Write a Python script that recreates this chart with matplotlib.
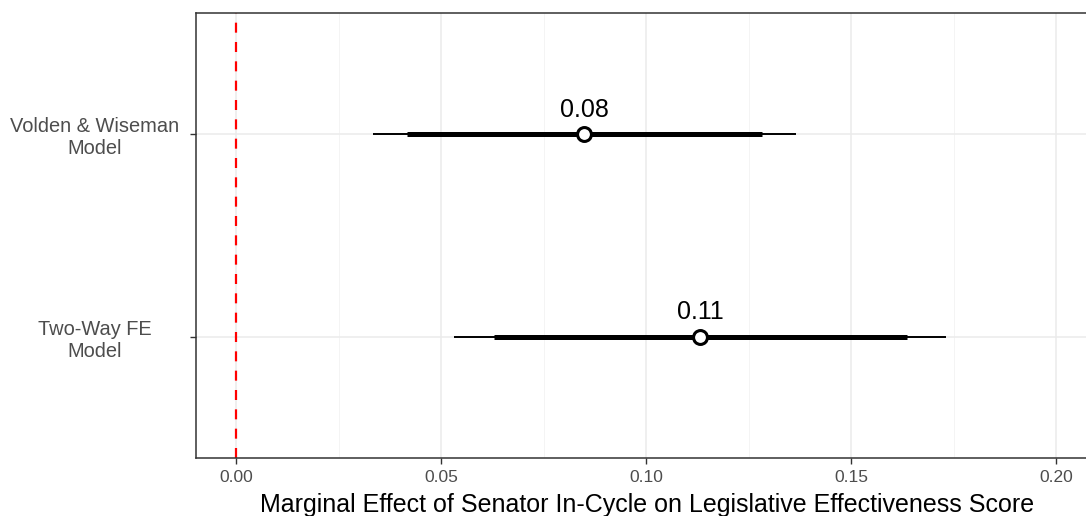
import matplotlib

matplotlib.use("Agg")
import matplotlib.pyplot as plt
from matplotlib import font_manager
from matplotlib.ticker import MultipleLocator

models = ["Two-Way FE\nModel", "Volden & Wiseman\nModel"]
estimates = [0.1132, 0.0849]
ci90_low = [0.0629, 0.0417]
ci90_high = [0.1637, 0.1283]
ci95_low = [0.0532, 0.0334]
ci95_high = [0.1732, 0.1366]
x_ticks = [0.0, 0.05, 0.10, 0.15, 0.20]

installed = {f.name for f in font_manager.fontManager.ttflist}
narrow = "Liberation Sans Narrow" if "Liberation Sans Narrow" in installed else "Liberation Sans"
plt.rcParams["font.family"] = ["Liberation Sans", "DejaVu Sans"]

fig = plt.figure(figsize=(10.86, 5.16), dpi=100)
ax = fig.add_axes([196 / 1086, 58 / 516, 890 / 1086, 445 / 516])

ypos = list(range(1, len(models) + 1))

# background grid, ggplot theme_bw style
ax.set_axisbelow(True)
ax.xaxis.set_minor_locator(MultipleLocator(0.025))
ax.grid(which="major", color="#EBEBEB", linewidth=1.1)
ax.grid(which="minor", axis="x", color="#F3F3F3", linewidth=0.6)

ax.axvline(0, color="#FF0000", linestyle=(0, (4.5, 4.2)), linewidth=1.6, zorder=2)

ax.hlines(ypos, ci95_low, ci95_high, color="black", linewidth=1.4, zorder=3)
ax.hlines(ypos, ci90_low, ci90_high, color="black", linewidth=3.6, zorder=3)
ax.plot(estimates, ypos, "o", markersize=10, markerfacecolor="white",
        markeredgecolor="black", markeredgewidth=2.2, zorder=4)

for x, y in zip(estimates, ypos):
    ax.annotate(f"{x:.2f}", (x, y), xytext=(0, 9), textcoords="offset points",
                ha="center", va="bottom", fontsize=18, color="black")

ax.set_xlim(-40 / 4100, 850 / 4100)
ax.set_ylim(0.4, len(models) + 0.6)
ax.set_xticks(x_ticks)
ax.set_xticklabels([f"{t:.2f}" for t in x_ticks], fontfamily=narrow)
ax.set_yticks(ypos)
ax.set_yticklabels(models, ha="center", multialignment="center")
ax.tick_params(axis="y", pad=69, labelsize=14.4, colors="#4D4D4D", length=4, width=1,
               color="#333333")
ax.tick_params(axis="x", labelsize=12.5, labelcolor="#4D4D4D", length=4, width=1,
               color="#333333", pad=5)
ax.tick_params(which="minor", length=0)
for lbl in ax.get_yticklabels():
    lbl.set_color("#4D4D4D")

ax.set_xlabel("Marginal Effect of Senator In-Cycle on Legislative Effectiveness Score",
              fontsize=18, fontfamily=narrow)
ax.xaxis.set_label_coords(0.507, -0.079)
ax.xaxis.label.set_va("top")

for side in ["left", "top", "bottom"]:
    ax.spines[side].set_color("#333333")
    ax.spines[side].set_linewidth(1.1)
ax.spines["right"].set_visible(False)

fig.savefig("out.png", dpi=100)
